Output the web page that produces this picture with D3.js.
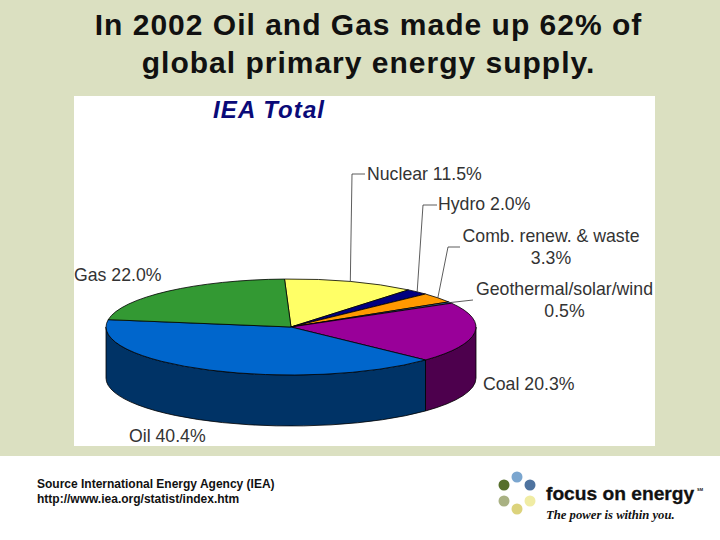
<!DOCTYPE html>
<html>
<head>
<meta charset="utf-8">
<script src="https://cdn.jsdelivr.net/npm/d3@7"></script>
<style>
  html, body { margin: 0; padding: 0; background: #fff; }
  svg { display: block; }
  text { font-family: "Liberation Sans", Arial, sans-serif; }
</style>
</head>
<body>
<div id="chart"></div>
<script>
const categories = ["Nuclear", "Hydro", "Comb. renew. & waste", "Geothermal/solar/wind", "Coal", "Oil", "Gas"];
const shares = [11.5, 2.0, 3.3, 0.5, 20.3, 40.4, 22.0];
const topColors = ["#ffff66", "#000080", "#ff9900", "#336699", "#990099", "#0066cc", "#339933"];
const sideColors = ["#999933", "#000040", "#995c00", "#1a334d", "#4d004d", "#003366", "#1a4d1a"];
const titleLines = ["In 2002 Oil and Gas made up 62% of", "global primary energy supply."];
const sourceLines = ["Source International Energy Agency (IEA)", "http://www.iea.org/statist/index.htm"];
const logoColors = ["#7ba6cf", "#4f739f", "#f0eca4", "#dcd37c", "#a9b183", "#566f2b"];

const width = 720;
const height = 540;
const cx = 291, cy = 327, rx = 185, ry = 48, depth = 51;
const startDeg = -2;

// where each label sits, same order as categories
const labelPlaces = [
    { lines: ["Nuclear 11.5%"], x: 367, y: 180, anchor: "start", elbow: [[365, 174], [352, 174]] },
    { lines: ["Hydro 2.0%"], x: 438, y: 210, anchor: "start", elbow: [[437, 205], [423, 205]] },
    { lines: ["Comb. renew. & waste", "3.3%"], x: 551, y: 242, anchor: "middle", elbow: [[460, 247], [448, 247]] },
    { lines: ["Geothermal/solar/wind", "0.5%"], x: 564.5, y: 295, anchor: "middle", elbow: [[473, 300]] },
    { lines: ["Coal 20.3%"], x: 483, y: 390, anchor: "start", elbow: null },
    { lines: ["Oil 40.4%"], x: 129, y: 442, anchor: "start", elbow: null },
    { lines: ["Gas 22.0%"], x: 74, y: 281, anchor: "start", elbow: null }
];

const svg = d3.select("#chart").append("svg")
    .attr("width", width)
    .attr("height", height);

svg.append("rect").attr("width", width).attr("height", 456).attr("fill", "#dbe0c1");
svg.append("rect").attr("x", 74).attr("y", 96).attr("width", 581).attr("height", 350).attr("fill", "#fff");

svg.selectAll("text.title")
    .data(titleLines)
    .enter().append("text")
    .attr("class", "title")
    .attr("x", 368.5)
    .attr("y", (d, i) => 35 + i * 38)
    .attr("text-anchor", "middle")
    .attr("font-size", 30)
    .attr("font-weight", "bold")
    .attr("letter-spacing", 1)
    .attr("fill", "#111")
    .text(d => d);

svg.append("text")
    .attr("x", 213)
    .attr("y", 118)
    .attr("font-size", 24)
    .attr("font-weight", "bold")
    .attr("font-style", "italic")
    .attr("letter-spacing", 1.1)
    .attr("fill", "#0a0a78")
    .text("IEA Total");

const pie = d3.pie()
    .sort(null)
    .startAngle(startDeg * Math.PI / 180)
    .endAngle((startDeg + 360) * Math.PI / 180);
const slices = pie(shares);

// unit circle squashed into the ellipse
const xScale = d3.scaleLinear().domain([-1, 1]).range([cx - rx, cx + rx]);
const yScale = d3.scaleLinear().domain([-1, 1]).range([cy - ry, cy + ry]);
const rimPoint = a => [xScale(Math.sin(a)), yScale(-Math.cos(a))];

// side wall, only the front half of the rim shows
function wallPath(d) {
    const a0 = Math.max(d.startAngle, Math.PI / 2);
    const a1 = Math.min(d.endAngle, 3 * Math.PI / 2);
    if (a1 <= a0) return null;
    const [x0, y0] = rimPoint(a0);
    const [x1, y1] = rimPoint(a1);
    return `M${x0},${y0} A${rx},${ry} 0 0 1 ${x1},${y1} ` +
           `L${x1},${y1 + depth} A${rx},${ry} 0 0 0 ${x0},${y0 + depth} Z`;
}

svg.append("g").selectAll("path")
    .data(slices.filter(d => wallPath(d)))
    .enter().append("path")
    .attr("d", wallPath)
    .attr("fill", d => sideColors[d.index])
    .attr("stroke", "#000")
    .attr("stroke-width", 0.8);

const arc = d3.arc().innerRadius(0).outerRadius(1);

svg.append("g")
    .attr("transform", `translate(${cx},${cy}) scale(${rx},${ry})`)
    .selectAll("path")
    .data(slices)
    .enter().append("path")
    .attr("d", arc)
    .attr("fill", d => topColors[d.index])
    .attr("stroke", "#000")
    .attr("stroke-width", 0.8)
    .attr("vector-effect", "non-scaling-stroke");

// leader lines run from the label elbow to the middle of the slice rim
svg.append("g").selectAll("path")
    .data(slices.filter(d => labelPlaces[d.index].elbow))
    .enter().append("path")
    .attr("d", d => d3.line()(labelPlaces[d.index].elbow.concat([rimPoint((d.startAngle + d.endAngle) / 2)])))
    .attr("fill", "none")
    .attr("stroke", "#333")
    .attr("stroke-width", 0.8);

const labels = svg.append("g").selectAll("text")
    .data(categories)
    .enter().append("text")
    .attr("x", (d, i) => labelPlaces[i].x)
    .attr("y", (d, i) => labelPlaces[i].y)
    .attr("text-anchor", (d, i) => labelPlaces[i].anchor)
    .attr("font-size", 17.7)
    .attr("fill", "#333");

labels.selectAll("tspan")
    .data((d, i) => labelPlaces[i].lines.map(t => ({ t, x: labelPlaces[i].x })))
    .enter().append("tspan")
    .attr("x", d => d.x)
    .attr("dy", (d, i) => i ? 22 : 0)
    .text(d => d.t);

svg.selectAll("text.source")
    .data(sourceLines)
    .enter().append("text")
    .attr("class", "source")
    .attr("x", 37)
    .attr("y", (d, i) => 488 + i * 15)
    .attr("font-size", 12)
    .attr("font-weight", "bold")
    .attr("fill", "#111")
    .text(d => d);

// logo: ring of dots plus wordmark
const logoAngle = d3.scaleLinear().domain([0, logoColors.length]).range([0, 2 * Math.PI]);
svg.append("g").selectAll("circle")
    .data(logoColors)
    .enter().append("circle")
    .attr("cx", (d, i) => 517 + 15 * Math.sin(logoAngle(i)))
    .attr("cy", (d, i) => 493 - 16 * Math.cos(logoAngle(i)))
    .attr("r", 5.5)
    .attr("fill", d => d);

svg.append("text")
    .attr("x", 546)
    .attr("y", 500)
    .attr("font-size", 19.2)
    .attr("font-weight", "bold")
    .attr("fill", "#111")
    .style("stroke", "#111")
    .style("stroke-width", 0.3)
    .text("focus on energy");

svg.append("text")
    .attr("x", 697)
    .attr("y", 491)
    .attr("font-size", 4)
    .attr("font-weight", "bold")
    .attr("fill", "#111")
    .text("SM");

svg.append("text")
    .attr("x", 546)
    .attr("y", 519)
    .attr("font-size", 12.7)
    .attr("font-weight", "bold")
    .attr("font-style", "italic")
    .attr("fill", "#111")
    .style("font-family", "'Liberation Serif', serif")
    .text("The power is within you.");
</script>
</body>
</html>
